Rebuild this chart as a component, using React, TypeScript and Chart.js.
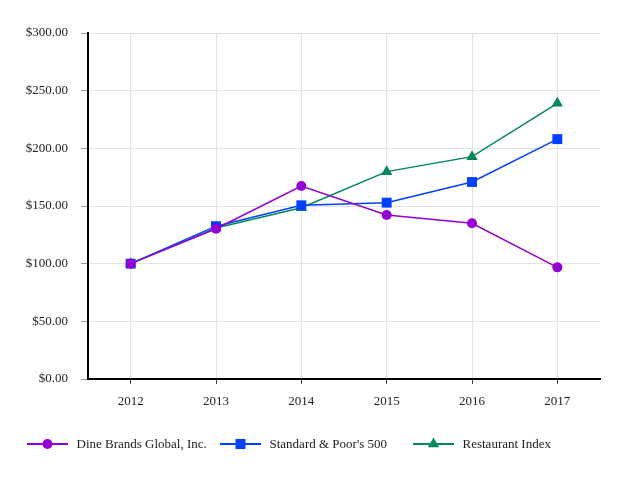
import React, { useEffect, useRef } from "react";
import { Chart, registerables } from "chart.js";

Chart.register(...registerables);

const categories = ["2012", "2013", "2014", "2015", "2016", "2017"];
const dineBrands = [100, 130.3, 167.3, 142.2, 135, 96.8];
const sp500 = [100, 132.5, 150.6, 152.9, 170.8, 208];
const restaurantIndex = [100, 131, 148.5, 179.8, 192.8, 239];
const seriesLabels = ["Dine Brands Global, Inc.", "Standard & Poor's 500", "Restaurant Index"];
const seriesColors = ["#9400D3", "#0040FF", "#00875A"];
const seriesShapes = ["circle", "rect", "triangle"];
const yTicks = [0, 50, 100, 150, 200, 250, 300];

const FONT = "'Liberation Serif', 'Times New Roman', serif";

function drawMarker(ctx: CanvasRenderingContext2D, shape: string, x: number, y: number, color: string) {
  ctx.save();
  ctx.fillStyle = color;
  ctx.beginPath();
  if (shape === "circle") {
    ctx.arc(x, y, 5, 0, Math.PI * 2);
  } else if (shape === "rect") {
    ctx.rect(x - 5, y - 5, 10, 10);
  } else {
    const r = 6.5;
    ctx.moveTo(x, y - r);
    ctx.lineTo(x + r * 0.866, y + r * 0.5);
    ctx.lineTo(x - r * 0.866, y + r * 0.5);
    ctx.closePath();
  }
  ctx.fill();
  ctx.restore();
}

const legendStarts = [27, 220, 413];

const customLegend = {
  id: "customLegend",
  afterDraw(chart: any) {
    const ctx: CanvasRenderingContext2D = chart.ctx;
    const y = 444;
    ctx.save();
    chart.data.datasets.forEach((ds: any, i: number) => {
      const x0 = legendStarts[i];
      ctx.strokeStyle = ds.borderColor;
      ctx.lineWidth = 2;
      ctx.beginPath();
      ctx.moveTo(x0, y);
      ctx.lineTo(x0 + 41, y);
      ctx.stroke();
      drawMarker(ctx, seriesShapes[i], x0 + 20.5, y, ds.borderColor);
      ctx.fillStyle = "#222";
      ctx.font = `13px ${FONT}`;
      ctx.textAlign = "left";
      ctx.textBaseline = "middle";
      ctx.fillText(ds.label, x0 + 49.5, y + 0.5);
    });
    ctx.restore();
  },
};

export default function App() {
  const ref = useRef<HTMLCanvasElement | null>(null);

  useEffect(() => {
    document.body.style.margin = "0";
    if (!ref.current) return;
    const values = [dineBrands, sp500, restaurantIndex];
    const chart = new Chart(ref.current, {
      type: "line",
      data: {
        labels: categories,
        datasets: values.map((v, i) => ({
          label: seriesLabels[i],
          data: v,
          borderColor: seriesColors[i],
          backgroundColor: seriesColors[i],
          pointBackgroundColor: seriesColors[i],
          pointBorderColor: seriesColors[i],
          pointBorderWidth: 0,
          pointStyle: seriesShapes[i] as any,
          pointRadius: i === 0 ? 5 : i === 1 ? 7 : 6.5,
          borderWidth: 1.5,
          tension: 0,
          fill: false,
        })),
      },
      options: {
        responsive: false,
        animation: false,
        layout: { padding: { left: 0, right: 33, top: 33, bottom: 61 } },
        plugins: {
          legend: { display: false },
          tooltip: { enabled: false },
        },
        scales: {
          x: {
            offset: true,
            grid: {
              offset: false,
              color: "#e3e3e3",
              lineWidth: 1,
              tickColor: "#444",
              tickLength: 5,
            },
            border: { color: "#000", width: 2 },
            ticks: {
              color: "#222",
              font: { family: FONT, size: 13 },
              padding: 10,
              maxRotation: 0,
            },
            afterFit: (s: any) => {
              s.height = 40;
            },
          },
          y: {
            min: 0,
            max: 300,
            afterBuildTicks: (s: any) => {
              s.ticks = yTicks.map((v) => ({ value: v }));
            },
            grid: {
              color: "#e3e3e3",
              lineWidth: 1,
              tickColor: "#999",
              tickLength: 7,
            },
            border: { color: "#000", width: 2 },
            ticks: {
              color: "#222",
              font: { family: FONT, size: 13 },
              padding: 13,
              callback: (v: any) => "$" + Number(v).toFixed(2),
            },
            afterFit: (s: any) => {
              s.width = 88;
            },
          },
        },
      },
      plugins: [customLegend],
    });
    return () => chart.destroy();
  }, []);

  return <canvas ref={ref} width={633} height={480} style={{ display: "block" }} />;
}
